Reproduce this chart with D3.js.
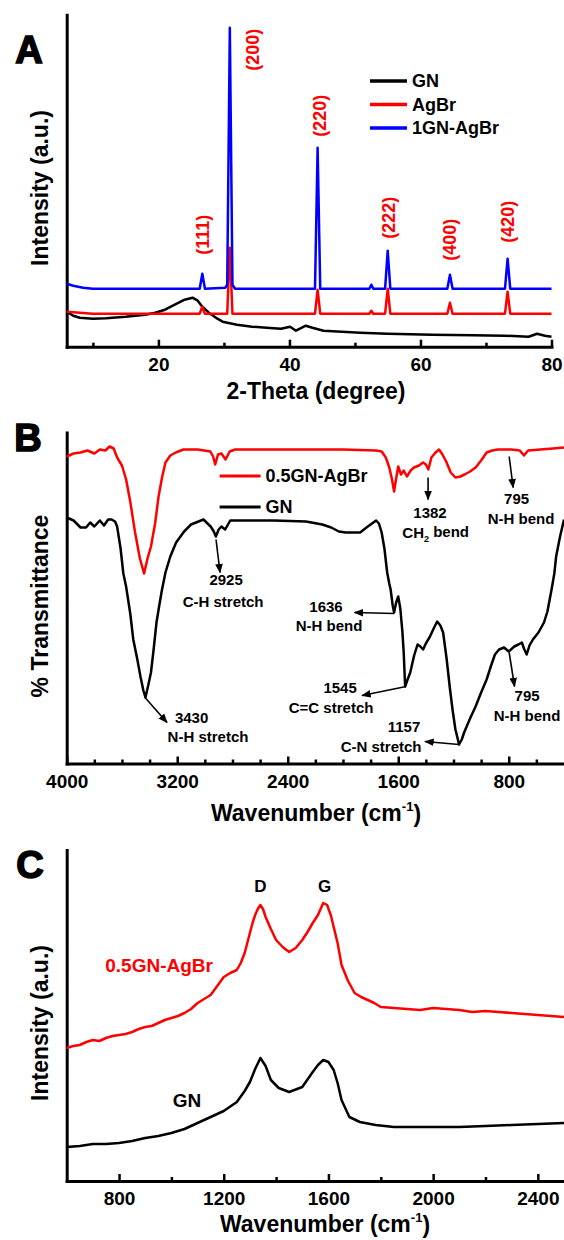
<!DOCTYPE html>
<html>
<head>
<meta charset="utf-8">
<script src="https://cdn.jsdelivr.net/npm/d3@7"></script>
<style>
  body { margin: 0; background: #fff; }
  text { font-family: "Liberation Sans", Arial, sans-serif; font-weight: bold; }
</style>
</head>
<body>
<div id="chart"></div>
<script>
var width = 564, height = 1240;
var left = 66.7;

// ---------- Panel A : XRD (2-theta, intensity a.u.) ----------
const xrdGN = [[6,35],[7,31],[8,29],[10,28],[12,28.5],[15,30],[18,32],[19.5,34],[21,37],[22.5,42],[24,47],[25.2,49],
  [26,46],[26.7,40],[27.7,34],[29,28],[29.8,25],[32,22],[34.3,20],[36.5,19],[38.7,18],[40.1,20],[41,16],[42.5,21],
  [43.5,19],[45.2,16],[48,15],[50.8,14],[55,13],[61.8,12],[68,11.5],[72.8,11],[76.5,10],[77.8,13],[79,11],[80,10]];
const xrdAgBr = [[6,35],[8,34],[10,33],[26.3,33],[26.7,40],[27.1,33],[30.5,33],[30.9,99],[31.3,33],[43.9,33],[44.3,57],
  [44.7,33],[52.2,33],[52.5,36],[52.8,33],[54.6,33],[55.0,58],[55.4,33],[64.1,33],[64.5,44],[64.9,33],[72.9,33],
  [73.3,55],[73.7,33],[80,33]];
const xrdComposite = [[6,63],[7,61],[8.5,59],[10,58],[26.3,58],[26.7,73],[27.1,58],[30.2,59],[30.5,62],[30.9,319],
  [31.3,62],[31.7,58],[43.9,58],[44.3,199],[44.7,58],[52.2,58],[52.5,62],[52.8,58],[54.6,58],[55.0,96],[55.4,58],
  [64.1,58],[64.5,72],[64.9,58],[72.9,58],[73.3,88],[73.7,58],[80,58]];
const xrdSeries = ["GN", "AgBr", "1GN-AgBr"];
const hklLabels = ["(111)", "(200)", "(220)", "(222)", "(400)", "(420)"];
const hklTheta = [26.7, 34.4, 44.6, 55.2, 64.5, 73.3];
const hklLevel = [112, 297, 231, 129, 107, 125];
const xrdMajor = [20, 40, 60, 80], xrdMinor = [10, 30, 50, 70];

// ---------- Panel B : FTIR (wavenumber, transmittance a.u.) ----------
const ftirComposite = [[4000,307],[3950,310],[3900,311],[3850,313],[3800,310],[3760,314],[3720,313],[3690,317],[3660,315],
  [3635,306],[3600,298],[3570,284],[3540,262],[3505,231],[3470,205],[3440,190],[3415,205],[3390,217],[3360,240],
  [3335,267],[3310,286],[3285,301],[3250,308],[3210,311],[3155,314],[3050,314],[2960,312],[2940,307],[2925,299],
  [2905,309],[2880,310],[2850,304],[2820,312],[2780,314],[2400,314],[2000,314],[1760,313],[1720,312],[1690,306],
  [1665,296],[1645,284],[1630,272],[1615,285],[1600,297],[1580,289],[1560,293],[1537,287],[1510,293],[1486,296],
  [1450,298],[1420,301],[1400,299],[1382,294],[1360,306],[1330,311],[1305,314],[1280,309],[1253,302],[1220,291],
  [1186,286],[1150,287],[1120,289],[1080,292],[1040,296],[1000,303],[960,311],[920,313],[880,314],[780,314],
  [720,313],[690,308],[660,313],[570,314],[480,315],[400,316]];
const ftirGN = [[4000,246],[3950,243],[3900,236],[3860,236],[3830,241],[3800,237],[3760,243],[3730,238],[3700,244],
  [3675,244],[3650,242],[3635,237],[3610,215],[3590,190],[3570,177],[3540,150],[3518,124],[3490,105],[3466,87],
  [3445,73],[3430,66],[3410,78],[3390,91],[3370,115],[3350,141],[3330,158],[3310,174],[3285,191],[3250,207],
  [3208,221],[3150,232],[3100,239],[3010,244],[2958,237],[2935,232],[2920,227],[2900,234],[2880,237],[2853,234],
  [2816,243],[2700,243],[2500,243],[2268,242],[2150,239],[2085,236],[2030,232],[1980,231],[1876,231],[1830,236],
  [1800,239],[1760,243],[1740,240],[1720,231],[1700,215],[1680,191],[1665,180],[1655,174],[1640,158],[1630,151],
  [1615,161],[1600,167],[1585,155],[1570,132],[1560,110],[1550,77],[1535,83],[1513,91],[1485,108],[1460,119],
  [1440,117],[1420,114],[1400,120],[1370,127],[1340,136],[1318,142],[1295,138],[1275,131],[1250,105],[1225,74],
  [1205,52],[1186,34],[1170,25],[1160,19],[1140,24],[1123,31],[1080,45],[1040,57],[1000,71],[960,84],[930,97],
  [900,109],[870,114],[834,116],[800,112],[760,117],[730,119],[705,121],[690,115],[670,109],[650,118],[625,124],
  [585,131],[545,141],[520,152],[490,174],[470,190],[457,207],[430,226],[400,244]];
const ftirSeries = ["0.5GN-AgBr", "GN"];
const ftirMajor = [4000, 3200, 2400, 1600, 800];
const ftirMinor = [3800, 3600, 3400, 3000, 2800, 2600, 2200, 2000, 1800, 1400, 1200, 1000, 600];
// annotations: band, assignment, arrow tail, arrow head, number pos, assignment pos (data units)
const ftirNotes = [
  { num: "3430", mode: "N-H stretch", a0: [3433,66],  a1: [3274,41],  n: [3096,46],  m: [2977,27] },
  { num: "2925", mode: "C-H stretch", a0: [2919,224], a1: [2890,191], n: [2846,184], m: [2868,162] },
  { num: "1636", mode: "N-H bend",    a0: [1630,150], a1: [1916,151], n: [2123,157], m: [2101,138] },
  { num: "1545", mode: "C=C stretch", a0: [1543,77],  a1: [1862,68],  n: [2021,76],  m: [2086,56] },
  { num: "1157", mode: "C-N stretch", a0: [1160,19],  a1: [1406,22],  n: [1558,37],  m: [1724,17] },
  { num: "795",  mode: "N-H bend",    a0: [797,111],  a1: [758,77],   n: [667,68],   m: [667,48] },
  { num: "1382", mode: "CH2 bend",    a0: [1384,286], a1: [1384,264], n: [1370,251], m: [1329,231] },
  { num: "795",  mode: "N-H bend",    a0: [797,307],  a1: [768,276],  n: [743,265],  m: [711,245] }
];

// ---------- Panel C : Raman (wavenumber, intensity a.u.) ----------
const ramanComposite = [[600,133],[625,135],[650,136],[675,139],[700,141],[725,140],[750,143],[775,145],[800,146],
  [825,147],[850,149],[875,152],[900,154],[925,155],[950,158],[975,161],[1000,163],[1025,165],[1050,168],[1075,172],
  [1100,178],[1125,182],[1150,186],[1175,195],[1200,204],[1225,208],[1250,211],[1265,218],[1280,228],[1295,243],
  [1310,258],[1320,266],[1330,272],[1340,276],[1350,272],[1360,264],[1380,252],[1400,241],[1425,234],[1450,229],
  [1475,233],[1500,241],[1520,249],[1540,258],[1560,266],[1580,278],[1595,276],[1610,265],[1620,254],[1635,238],
  [1650,216],[1675,200],[1700,188],[1725,184],[1750,181],[1775,178],[1800,174],[1850,173],[1900,172],[1950,171],
  [2000,173],[2050,172],[2100,171],[2150,169],[2200,170],[2250,169],[2300,168],[2350,167],[2400,166],[2450,165],
  [2500,164]];
const ramanGN = [[600,34],[650,35],[700,37],[750,37],[800,38],[850,40],[900,43],[950,45],[1000,48],[1050,52],
  [1100,58],[1150,64],[1200,70],[1250,79],[1280,90],[1300,99],[1320,112],[1340,123],[1360,115],[1380,101],
  [1410,93],[1450,89],[1500,94],[1540,109],[1560,116],[1580,121],[1600,119],[1620,111],[1635,98],[1650,81],
  [1680,64],[1720,59],[1780,56],[1850,54],[1900,54],[2000,54],[2100,54],[2200,55],[2300,56],[2400,57],[2500,58]];
const ramanSeries = ["0.5GN-AgBr", "GN"];
const ramanMajor = [800, 1200, 1600, 2000, 2400];
const ramanMinor = [1000, 1400, 1800, 2200];

const svg = d3.select("#chart").append("svg")
    .attr("width", width)
    .attr("height", height);

const defs = svg.append("defs");
defs.append("marker")
    .attr("id", "arrow")
    .attr("viewBox", "0 0 10 10")
    .attr("refX", 9).attr("refY", 5)
    .attr("markerWidth", 6).attr("markerHeight", 6)
    .attr("markerUnits", "strokeWidth")
    .attr("orient", "auto")
    .append("path").attr("d", "M0,1 L10,5 L0,9 z").attr("fill", "black");

//Draws x axis (major + minor, inward ticks) and plain y axis line
function drawAxes(x, y, major, minor) {
    const y0 = y.range()[0];
    svg.append("g")
        .attr("transform", `translate(0,${y0})`)
        .call(d3.axisBottom(x).tickValues(minor).tickSize(-4).tickSizeOuter(0).tickFormat(""))
        .call(g => g.select(".domain").remove());
    const gx = svg.append("g")
        .attr("transform", `translate(0,${y0})`)
        .call(d3.axisBottom(x).tickValues(major).tickSize(-7).tickSizeOuter(0).tickPadding(11).tickFormat(d3.format("d")));
    svg.append("g")
        .attr("transform", `translate(${left},0)`)
        .call(d3.axisLeft(y).tickValues([]).tickSizeOuter(0));
    svg.selectAll(".domain").attr("stroke-width", 3).attr("stroke-linecap", "square");
    svg.selectAll(".tick line").attr("stroke-width", 2.5);
    gx.selectAll("text")
        .attr("font-size", 19)
        .attr("font-family", "Liberation Sans, Arial, sans-serif")
        .attr("font-weight", "bold")
        .attr("fill", "black");
}

function drawLine(x, y, data, color) {
    svg.append("path")
        .datum(data)
        .attr("fill", "none")
        .attr("stroke", color)
        .attr("stroke-width", 2.5)
        .attr("stroke-linejoin", "round")
        .attr("d", d3.line().x(d => x(d[0])).y(d => y(d[1])));
}

function yTitle(text, cy) {
    svg.append("text")
        .attr("transform", `translate(40,${cy}) rotate(-90)`)
        .attr("text-anchor", "middle")
        .attr("dy", "0.35em")
        .attr("font-size", 23)
        .text(text);
}

function xTitle(cx, cy) {
    return svg.append("text")
        .attr("x", cx).attr("y", cy)
        .attr("text-anchor", "middle")
        .attr("dy", "0.35em")
        .attr("font-size", 23);
}

function panelLetter(text, cx, cy) {
    svg.append("text")
        .attr("x", cx).attr("y", cy)
        .attr("text-anchor", "middle")
        .attr("dy", "0.36em")
        .attr("font-size", 38)
        .attr("stroke", "black").attr("stroke-width", 1.6)
        .text(text);
}

// ===== Panel A =====
const xA = d3.scaleLinear().domain([6, 80]).range([left, 551.5]);
const yA = d3.scaleLinear().domain([0, 332]).range([346.7, 14.7]);
const colA = d3.scaleOrdinal().domain(xrdSeries).range(["black", "red", "blue"]);

drawAxes(xA, yA, xrdMajor, xrdMinor);
drawLine(xA, yA, xrdGN, colA("GN"));
drawLine(xA, yA, xrdAgBr, colA("AgBr"));
drawLine(xA, yA, xrdComposite, colA("1GN-AgBr"));

hklLabels.forEach((lab, i) => {
    svg.append("text")
        .attr("transform", `translate(${xA(hklTheta[i])},${yA(hklLevel[i])}) rotate(-90)`)
        .attr("text-anchor", "middle")
        .attr("dy", "0.35em")
        .attr("font-size", 18)
        .attr("fill", "red")
        .text(lab);
});

const legA = svg.append("g").attr("transform", "translate(370,81)");
xrdSeries.forEach((s, i) => {
    legA.append("line").attr("x1", 0).attr("x2", 37).attr("y1", i * 23.5).attr("y2", i * 23.5)
        .attr("stroke", colA(s)).attr("stroke-width", 3.5);
    legA.append("text").attr("x", 42).attr("y", i * 23.5).attr("dy", "0.36em")
        .attr("font-size", 18).text(s);
});

panelLetter("A", 29, 49);
yTitle("Intensity (a.u.)", 188);
xTitle(316, 391).text("2-Theta (degree)");

// ===== Panel B =====
const xB = d3.scaleLinear().domain([4000, 400]).range([left, 564]);
const yB = d3.scaleLinear().domain([0, 331]).range([763.5, 432.5]);
const colB = d3.scaleOrdinal().domain(ftirSeries).range(["red", "black"]);

drawAxes(xB, yB, ftirMajor, ftirMinor);
drawLine(xB, yB, ftirComposite, colB("0.5GN-AgBr"));
drawLine(xB, yB, ftirGN, colB("GN"));

const legB = svg.append("g").attr("transform", "translate(219.6,476)");
ftirSeries.forEach((s, i) => {
    legB.append("line").attr("x1", 0).attr("x2", 41).attr("y1", i * 31).attr("y2", i * 31)
        .attr("stroke", colB(s)).attr("stroke-width", 3);
    legB.append("text").attr("x", 46).attr("y", i * 31).attr("dy", "0.36em")
        .attr("font-size", 18).text(s);
});

ftirNotes.forEach(n => {
    svg.append("line")
        .attr("x1", xB(n.a0[0])).attr("y1", yB(n.a0[1]))
        .attr("x2", xB(n.a1[0])).attr("y2", yB(n.a1[1]))
        .attr("stroke", "black").attr("stroke-width", 1.6)
        .attr("marker-end", "url(#arrow)");
    svg.append("text")
        .attr("x", xB(n.n[0])).attr("y", yB(n.n[1]))
        .attr("text-anchor", "middle").attr("dy", "0.36em")
        .attr("font-size", 15).text(n.num);
    const t = svg.append("text")
        .attr("x", xB(n.m[0])).attr("y", yB(n.m[1]))
        .attr("text-anchor", "middle").attr("dy", "0.36em")
        .attr("font-size", 15);
    if (n.mode === "CH2 bend") {
        t.append("tspan").text("CH");
        t.append("tspan").attr("font-size", 9).attr("dy", "0.45em").text("2");
        t.append("tspan").attr("dy", "-0.3em").text(" bend");
    } else {
        t.text(n.mode);
    }
});

panelLetter("B", 28, 437);
yTitle("% Transmittance", 606);
const tB = xTitle(316, 813);
tB.append("tspan").text("Wavenumber (cm");
tB.append("tspan").attr("font-size", 13).attr("dy", "-0.75em").text("-1");
tB.append("tspan").attr("dy", "0.45em").text(")");

// ===== Panel C =====
const xC = d3.scaleLinear().domain([600, 2500]).range([left, 564]);
const yC = d3.scaleLinear().domain([0, 331]).range([1181, 850]);
const colC = d3.scaleOrdinal().domain(ramanSeries).range(["red", "black"]);

drawAxes(xC, yC, ramanMajor, ramanMinor);
drawLine(xC, yC, ramanComposite, colC("0.5GN-AgBr"));
drawLine(xC, yC, ramanGN, colC("GN"));

[["D", 1340], ["G", 1585]].forEach(p => {
    svg.append("text").attr("x", xC(p[1])).attr("y", yC(295))
        .attr("text-anchor", "middle").attr("dy", "0.36em")
        .attr("font-size", 17).text(p[0]);
});
svg.append("text").attr("x", xC(953)).attr("y", yC(216))
    .attr("text-anchor", "middle").attr("dy", "0.36em")
    .attr("font-size", 19).attr("fill", colC("0.5GN-AgBr")).text("0.5GN-AgBr");
svg.append("text").attr("x", xC(1060)).attr("y", yC(81))
    .attr("text-anchor", "middle").attr("dy", "0.36em")
    .attr("font-size", 19).attr("font-weight", "normal").text("GN");

panelLetter("C", 30, 864);
yTitle("Intensity (a.u.)", 1023);
const tC = xTitle(325, 1224);
tC.append("tspan").text("Wavenumber (cm");
tC.append("tspan").attr("font-size", 13).attr("dy", "-0.75em").text("-1");
tC.append("tspan").attr("dy", "0.45em").text(")");
</script>
</body>
</html>
